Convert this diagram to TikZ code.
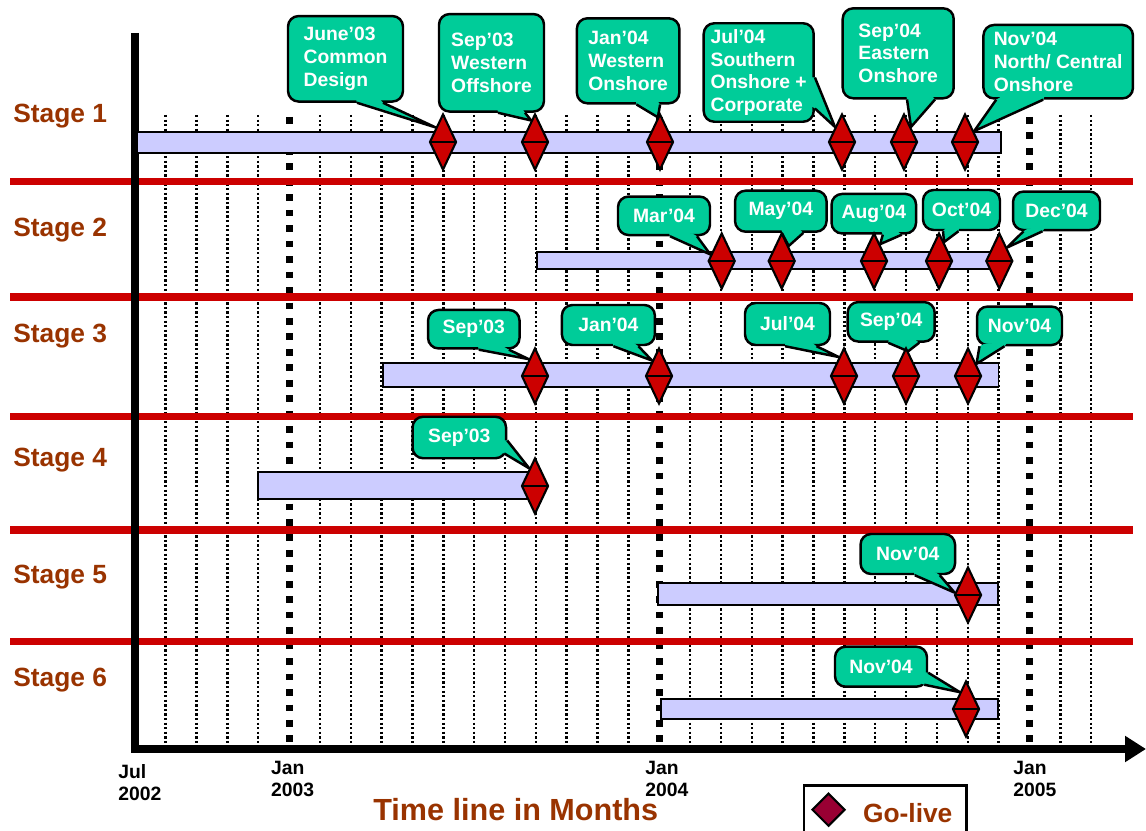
\documentclass[tikz,border=0pt]{standalone}
\usepackage{fontspec}
\setmainfont{Liberation Sans}
\usetikzlibrary{shapes.geometric,arrows.meta,calc}

\definecolor{stagebrown}{HTML}{993300}
\definecolor{sepred}{HTML}{CC0000}
\definecolor{barblue}{HTML}{CCCCFF}
\definecolor{callgreen}{HTML}{00CC99}
\definecolor{keyred}{HTML}{990033}

\pgfdeclarelayer{front}
\pgfsetlayers{main,front}

\tikzset{
  golive/.style={diamond,draw=black,line width=1.2pt,fill=sepred,inner sep=0pt,
    minimum width=0.54cm,minimum height=1.12cm,
    path picture={\draw[line width=1.2pt] (path picture bounding box.west) -- (path picture bounding box.east);}},
  callbox/.style={draw=black,line width=1.4pt,fill=callgreen,rounded corners=6pt,
    text=white,font=\bfseries\fontsize{11}{13}\selectfont,align=left,inner sep=0pt},
  callfill/.style={fill=callgreen},
  callline/.style={draw=black,line width=1.4pt,line join=round},
  stagelbl/.style={anchor=base west,text=stagebrown,font=\bfseries\fontsize{15}{18}\selectfont,inner sep=0pt},
  datelbl/.style={anchor=base west,align=left,font=\bfseries\fontsize{11}{12.9}\selectfont,inner sep=0pt},
  stagebar/.style={draw=black,line width=1pt,fill=barblue},
  monthline/.style={line width=1.4pt,dash pattern=on 1.3pt off 1.3pt},
  yearline/.style={line width=4pt,dash pattern=on 3.8pt off 5pt},
  stagesep/.style={draw=sepred,line width=4pt},
}

% tail of a callout: box, anchor, base offsets, tip
\newcommand{\calltail}[5]{%
  \coordinate (ta) at ($(#1.#2)+(#3)$);
  \coordinate (tb) at ($(#1.#2)+(#4)$);
  \fill[callfill] (ta) -- (#5) -- (tb) -- ($(tb)!3pt!(#1.center)$) -- ($(ta)!3pt!(#1.center)$) -- cycle;
  \draw[callline] (ta) -- (#5) -- (tb);
}

\begin{document}
\begin{tikzpicture}[x=0.02cm,y=-0.02cm]
  \useasboundingbox (0,0) rectangle (1146,831);

  % month grid
  \foreach \k in {1,...,4,6,7,...,16,18,19,...,28,30,31}
    \draw[monthline] ({134.8+30.85*\k},115) -- ({134.8+30.85*\k},745);
  \foreach \k in {5,17,29}
    \draw[yearline] ({134.8+30.85*\k},117) -- ({134.8+30.85*\k},745);

  % stage separators
  \draw[stagesep] (10,181.7) -- (1133,181.7);
  \draw[stagesep] (10,297) -- (1133,297);
  \draw[stagesep] (10,416.7) -- (1133,416.7);
  \draw[stagesep] (10,530) -- (1133,530);
  \draw[stagesep] (10,641.7) -- (1133,641.7);

  % axes
  \draw[line width=4pt,line join=miter,-{Triangle[length=0.42cm,width=0.5cm]}]
    (135,33) -- (135,749) -- (1146,749);

  % bars
  \draw[stagebar] (137,131.7) rectangle (1001,153.3);
  \draw[stagebar] (537,251.7) rectangle (1000,269.3);
  \draw[stagebar] (383,363) rectangle (998.6,386.7);
  \draw[stagebar] (258,471.7) rectangle (540,499.3);
  \draw[stagebar] (658,582.7) rectangle (998,605);
  \draw[stagebar] (660.7,699) rectangle (998,719);

  \begin{scope}[every node/.style={stagelbl}]
    \node (s1) at (13,122.7) {Stage 1};
    \node (s2) at (13,236)   {Stage 2};
    \node (s3) at (13,342.7) {Stage 3};
    \node (s4) at (13,466)   {Stage 4};
    \node (s5) at (13,583)   {Stage 5};
    \node (s6) at (13,686.7) {Stage 6};
  \end{scope}

  \begin{scope}[every node/.style={datelbl}]
    \node (jul02) at (118,800.7)   {Jul\\2002};
    \node (jan03) at (270.7,796.7) {Jan\\2003};
    \node (jan04) at (645,796.7)   {Jan\\2004};
    \node (jan05) at (1013,796.7)  {Jan\\2005};
  \end{scope}

  \node[anchor=base west,inner sep=0pt,text=stagebrown,font=\bfseries\fontsize{17.4}{20}\selectfont]
    (title) at (373,820) {Time line in Months};

  % go-live markers
  \begin{pgfonlayer}{front}
  \begin{scope}[every node/.style={golive}]
    \node (g11) at (443,142) {};
    \node (g12) at (535,142) {};
    \node (g13) at (660,142) {};
    \node (g14) at (842,142) {};
    \node (g15) at (904,142) {};
    \node (g16) at (965,142) {};
    \node (g21) at (721.7,261) {};
    \node (g22) at (781.7,261) {};
    \node (g23) at (874,261) {};
    \node (g24) at (939,261) {};
    \node (g25) at (999.3,261) {};
    \node (g31) at (535,376) {};
    \node (g32) at (659,376) {};
    \node (g33) at (844,376) {};
    \node (g34) at (906,376) {};
    \node (g35) at (968,376) {};
    \node (g41) at (535,486) {};
    \node (g51) at (968,595) {};
    \node (g61) at (966,709) {};
  \end{scope}
  \end{pgfonlayer}

  % callouts
  \begin{scope}[every node/.style={callbox}]
    \node[minimum width=2.30cm,minimum height=1.71cm] (c11) at (345.5,58.8) {June'03\\Common\\Design};
    \node[minimum width=2.10cm,minimum height=1.95cm] (c12) at (491.5,62.8) {Sep'03\\Western\\Offshore};
    \node[minimum width=2.05cm,minimum height=1.70cm] (c13) at (628.1,60.8) {Jan'04\\Western\\Onshore};
    \node[minimum width=2.20cm,minimum height=1.97cm] (c14) at (758.7,72.5) {Jul'04\\Southern\\Onshore +\\Corporate};
    \node[minimum width=2.22cm,minimum height=1.80cm] (c15) at (898.2,53.3) {Sep'04\\Eastern\\Onshore};
    \node[minimum width=2.99cm,minimum height=1.47cm] (c16) at (1058.2,61.7) {Nov'04\\North/ Central\\Onshore};
    \node[minimum width=1.84cm,minimum height=0.77cm] (c21) at (664,215.8) {Mar'04};
    \node[minimum width=1.83cm,minimum height=0.82cm] (c22) at (780.8,211.2) {May'04};
    \node[minimum width=1.69cm,minimum height=0.79cm] (c23) at (873.8,213.7) {Aug'04};
    \node[minimum width=1.54cm,minimum height=0.80cm] (c24) at (961.5,210) {Oct'04};
    \node[minimum width=1.74cm,minimum height=0.77cm] (c25) at (1056.5,210.8) {Dec'04};
    \node[minimum width=1.83cm,minimum height=0.77cm] (c31) at (473.8,329.2) {Sep'03};
    \node[minimum width=1.86cm,minimum height=0.80cm] (c32) at (608.4,325) {Jan'04};
    \node[minimum width=1.70cm,minimum height=0.84cm] (c33) at (787.5,324) {Jul'04};
    \node[minimum width=1.74cm,minimum height=0.79cm] (c34) at (891.2,321.8) {Sep'04};
    \node[minimum width=1.70cm,minimum height=0.77cm] (c35) at (1019.5,325.8) {Nov'04};
    \node[minimum width=1.87cm,minimum height=0.83cm] (c41) at (459.3,437.5) {Sep'03};
    \node[minimum width=1.89cm,minimum height=0.80cm] (c51) at (907.8,554) {Nov'04};
    \node[minimum width=1.84cm,minimum height=0.80cm] (c61) at (881,666.7) {Nov'04};
  \end{scope}

  \calltail{c11}{south}{11.5,0}{37.5,0}{g11.north west}
  \calltail{c12}{south}{6.5,0}{33.5,0}{g12.100}
  \calltail{c13}{south}{8.4,0}{32,0}{g13.95}
  \calltail{c14}{east}{0,5}{0,36}{g14.115}
  \calltail{c15}{south}{8.8,0}{36.8,0}{g15.65}
  \calltail{c16}{south}{-62,0}{-15,0}{g16.50}
  \calltail{c21}{south}{6,0}{33,0}{g21.150}
  \calltail{c22}{south}{1,0}{22.5,0}{g22.65}
  \calltail{c23}{south}{9,0}{28,0}{g23.70}
  \calltail{c24}{south}{-18.5,0}{-3,0}{g24.75}
  \calltail{c25}{south}{-33,0}{-14,0}{g25.60}
  \calltail{c31}{south}{5,0}{35,0}{g31.110}
  \calltail{c32}{south}{5,0}{30,0}{g32.114}
  \calltail{c33}{south}{-2.5,0}{29,0}{g33.105}
  \calltail{c34}{south}{-3,0}{28,0}{g34.85}
  \calltail{c35}{south}{-40,0}{-15,0}{g35.55}
  \calltail{c41}{east}{0,3}{-3,16}{g41.108}
  \calltail{c51}{south}{7,0}{32,0}{g51.170}
  \calltail{c61}{east}{0,6}{-4,18}{g61.110}

  % legend
  \node[draw=black,line width=1.5pt,anchor=north west,inner sep=0pt,
        minimum width=3.25cm,minimum height=1.3cm] (legend) at (802.7,784) {};
  \node[diamond,draw=black,line width=1.2pt,fill=keyred,inner sep=0pt,
        minimum width=0.66cm,minimum height=0.66cm] (key) at (828.5,809.7) {};
  \node[anchor=base west,inner sep=0pt,text=stagebrown,font=\bfseries\fontsize{15}{18}\selectfont]
    (keylbl) at (862.7,822.7) {Go-live};
\end{tikzpicture}
\end{document}
